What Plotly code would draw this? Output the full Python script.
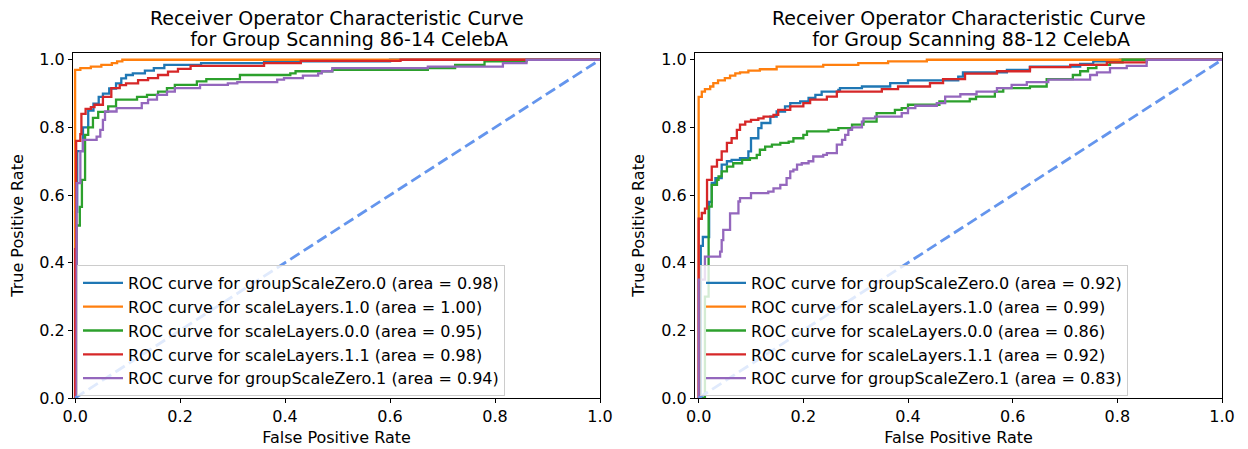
import plotly.graph_objects as go

# the page body has an 8px default margin, so the figure is 8px smaller
# than the 1248x449 window and offset by 8px
OFF = 8
WIN_W, WIN_H = 1248, 449
W, H = WIN_W - OFF, WIN_H - OFF

COLORS = ["#1f77b4", "#ff7f0e", "#2ca02c", "#d62728", "#9467bd"]
MODELS = ["groupScaleZero.0", "scaleLayers.1.0", "scaleLayers.0.0",
          "scaleLayers.1.1", "groupScaleZero.1"]
AUC_A = [0.98, 1.00, 0.95, 0.98, 0.94]
AUC_B = [0.92, 0.99, 0.86, 0.92, 0.83]
TITLES = ["86-14", "88-12"]
TICKS = [0.0, 0.2, 0.4, 0.6, 0.8, 1.0]
TICK_LABELS = ["0.0", "0.2", "0.4", "0.6", "0.8", "1.0"]

# ---------- panel A (86-14) ----------
fpr_a0 = [0, 0, 0.004, 0.015, 0.025, 0.035, 0.045, 0.053, 0.065, 0.078, 0.088, 0.097, 0.11, 0.133, 0.15, 0.17, 0.24, 0.36, 0.6, 1.0]
tpr_a0 = [0, 0.55, 0.73, 0.80, 0.85, 0.87, 0.89, 0.90, 0.915, 0.93, 0.945, 0.955, 0.96, 0.968, 0.975, 0.985, 0.99, 0.995, 1.0, 1.0]

fpr_a1 = [0, 0, 0.01, 0.03, 0.05, 0.07, 0.08, 0.09, 1.0]
tpr_a1 = [0, 0.97, 0.975, 0.98, 0.985, 0.99, 0.995, 1.0, 1.0]

fpr_a2 = [0, 0.003, 0.003, 0.009, 0.013, 0.019, 0.025, 0.034, 0.044, 0.063, 0.078, 0.118, 0.137, 0.158, 0.175, 0.19, 0.232, 0.25, 0.314, 0.41, 0.42, 0.49, 0.672, 0.724, 0.78, 0.86, 1.0]
tpr_a2 = [0, 0, 0.51, 0.565, 0.645, 0.778, 0.80, 0.828, 0.846, 0.862, 0.882, 0.89, 0.896, 0.906, 0.916, 0.926, 0.936, 0.943, 0.955, 0.96, 0.966, 0.97, 0.975, 0.985, 0.995, 1.0, 1.0]

fpr_a3 = [0, 0, 0.002, 0.01, 0.012, 0.02, 0.03, 0.037, 0.053, 0.069, 0.085, 0.097, 0.12, 0.139, 0.158, 0.177, 0.196, 0.22, 0.36, 0.43, 0.62, 1.0]
tpr_a3 = [0, 0.44, 0.76, 0.78, 0.84, 0.855, 0.86, 0.867, 0.89, 0.916, 0.925, 0.93, 0.94, 0.946, 0.955, 0.965, 0.973, 0.982, 0.99, 0.997, 1.0, 1.0]

fpr_a4 = [0, 0.003, 0.01, 0.015, 0.041, 0.048, 0.053, 0.057, 0.079, 0.127, 0.139, 0.156, 0.175, 0.19, 0.238, 0.291, 0.309, 0.385, 0.398, 0.434, 0.463, 0.47, 0.49, 0.672, 0.815, 0.86, 1.0]
tpr_a4 = [0, 0.635, 0.73, 0.763, 0.773, 0.793, 0.822, 0.847, 0.857, 0.872, 0.882, 0.896, 0.906, 0.916, 0.926, 0.93, 0.934, 0.941, 0.946, 0.953, 0.96, 0.966, 0.975, 0.98, 0.99, 1.0, 1.0]

# ---------- panel B (88-12) ----------
fpr_b0 = [0, 0.004, 0.008, 0.02, 0.025, 0.032, 0.044, 0.054, 0.063, 0.079, 0.095, 0.10, 0.114, 0.12, 0.137, 0.149, 0.165, 0.175, 0.194, 0.21, 0.223, 0.235, 0.267, 0.27, 0.312, 0.366, 0.40, 0.496, 0.505, 0.589, 0.633, 0.729, 0.754, 0.805, 1.0]
tpr_b0 = [0, 0.45, 0.476, 0.58, 0.636, 0.65, 0.69, 0.70, 0.704, 0.709, 0.729, 0.768, 0.798, 0.813, 0.832, 0.847, 0.862, 0.872, 0.877, 0.887, 0.896, 0.906, 0.911, 0.916, 0.921, 0.931, 0.939, 0.95, 0.963, 0.97, 0.98, 0.988, 0.995, 1.0, 1.0]

fpr_b1 = [0, 0, 0.006, 0.012, 0.022, 0.028, 0.037, 0.05, 0.06, 0.07, 0.079, 0.095, 0.117, 0.149, 0.238, 0.305, 0.362, 0.436, 1.0]
tpr_b1 = [0, 0.89, 0.906, 0.913, 0.921, 0.931, 0.939, 0.946, 0.953, 0.96, 0.963, 0.968, 0.972, 0.98, 0.985, 0.99, 0.995, 1.0, 1.0]

fpr_b2 = [0, 0.012, 0.019, 0.025, 0.035, 0.038, 0.044, 0.054, 0.066, 0.083, 0.098, 0.111, 0.117, 0.127, 0.14, 0.156, 0.172, 0.181, 0.20, 0.207, 0.248, 0.267, 0.293, 0.315, 0.34, 0.375, 0.388, 0.40, 0.46, 0.518, 0.53, 0.566, 0.582, 0.633, 0.665, 0.715, 0.729, 0.744, 0.76, 0.786, 0.81, 1.0]
tpr_b2 = [0, 0.30, 0.566, 0.63, 0.645, 0.655, 0.67, 0.684, 0.694, 0.704, 0.709, 0.719, 0.734, 0.743, 0.749, 0.754, 0.758, 0.768, 0.778, 0.788, 0.793, 0.798, 0.808, 0.817, 0.842, 0.852, 0.857, 0.867, 0.877, 0.884, 0.891, 0.906, 0.916, 0.921, 0.943, 0.955, 0.966, 0.975, 0.985, 0.992, 1.0, 1.0]

fpr_b3 = [0, 0, 0.006, 0.012, 0.016, 0.025, 0.035, 0.044, 0.054, 0.063, 0.073, 0.079, 0.089, 0.10, 0.114, 0.124, 0.143, 0.152, 0.175, 0.20, 0.213, 0.245, 0.264, 0.35, 0.381, 0.442, 0.467, 0.509, 0.57, 0.633, 0.71, 0.78, 0.856, 1.0]
tpr_b3 = [0, 0.53, 0.547, 0.56, 0.645, 0.684, 0.704, 0.729, 0.754, 0.768, 0.793, 0.808, 0.817, 0.822, 0.827, 0.832, 0.837, 0.852, 0.862, 0.872, 0.882, 0.891, 0.906, 0.913, 0.921, 0.931, 0.943, 0.959, 0.966, 0.978, 0.985, 0.992, 1.0, 1.0]

fpr_b4 = [0, 0, 0.012, 0.041, 0.044, 0.047, 0.06, 0.076, 0.079, 0.10, 0.133, 0.143, 0.156, 0.168, 0.175, 0.181, 0.188, 0.197, 0.21, 0.219, 0.238, 0.245, 0.264, 0.274, 0.28, 0.286, 0.293, 0.312, 0.315, 0.337, 0.388, 0.40, 0.414, 0.455, 0.471, 0.50, 0.531, 0.57, 0.598, 0.627, 0.668, 0.748, 0.761, 0.786, 0.818, 0.856, 1.0]
tpr_b4 = [0, 0.35, 0.418, 0.433, 0.467, 0.497, 0.546, 0.581, 0.591, 0.606, 0.61, 0.62, 0.63, 0.65, 0.67, 0.675, 0.69, 0.694, 0.70, 0.714, 0.719, 0.724, 0.749, 0.763, 0.778, 0.793, 0.80, 0.817, 0.827, 0.832, 0.842, 0.857, 0.864, 0.872, 0.891, 0.898, 0.906, 0.916, 0.926, 0.934, 0.941, 0.955, 0.963, 0.975, 0.982, 1.0, 1.0]

DIAG = [0, 1]

panels = [
    ([(fpr_a0, tpr_a0), (fpr_a1, tpr_a1), (fpr_a2, tpr_a2), (fpr_a3, tpr_a3), (fpr_a4, tpr_a4)], AUC_A),
    ([(fpr_b0, tpr_b0), (fpr_b1, tpr_b1), (fpr_b2, tpr_b2), (fpr_b3, tpr_b3), (fpr_b4, tpr_b4)], AUC_B),
]

FONT = "DejaVu Sans"
fig = go.Figure()

for p, (curves, aucs) in enumerate(panels):
    xa = "x" if p == 0 else "x2"
    ya = "y" if p == 0 else "y2"
    lg = "legend" if p == 0 else "legend2"
    for i, (f, t) in enumerate(curves):
        fig.add_trace(go.Scatter(
            x=f, y=t, mode="lines",
            line=dict(color=COLORS[i], width=2.3, shape="hv", simplify=False),
            name=f"ROC curve for {MODELS[i]} (area = {aucs[i]:.2f})",
            xaxis=xa, yaxis=ya, legend=lg))
    fig.add_trace(go.Scatter(
        x=DIAG, y=DIAG, mode="lines",
        line=dict(color="#6495ED", width=2.8, dash="11px,5px", simplify=False),
        showlegend=False, xaxis=xa, yaxis=ya, hoverinfo="skip"))

# plot area in window pixels: left 73, right 1222, top 53, bottom 398
L_PX, R_PX, T_PX, B_PX = 73, 1222, 53, 398
ML, MT = L_PX - OFF, T_PX - OFF
MR, MB = WIN_W - R_PX, WIN_H - B_PX
PW = R_PX - L_PX
PH = B_PX - T_PX


def px_x(px):
    return (px - L_PX) / PW


def px_y(py):
    return (B_PX - py) / PH


x1 = [0.0, px_x(600)]
x2 = [px_x(695), 1.0]

axis_common = dict(
    showline=True, mirror=True, linecolor="black", linewidth=1,
    ticks="outside", ticklen=4, tickwidth=1, tickcolor="black",
    showgrid=False, zeroline=False, automargin=False,
    tickfont=dict(family=FONT, size=16, color="black"),
    tickvals=TICKS, ticktext=TICK_LABELS,
)
xt = dict(text="False Positive Rate", standoff=6, font=dict(family=FONT, size=16, color="black"))
yt = dict(text="True Positive Rate", standoff=12, font=dict(family=FONT, size=16, color="black"))

legend_common = dict(
    xanchor="left", yanchor="top",
    bgcolor="rgba(255,255,255,0.8)", bordercolor="#cccccc", borderwidth=1,
    font=dict(family=FONT, size=16, color="black"), itemwidth=40,
)

fig.update_layout(
    width=W, height=H,
    margin=dict(l=ML, r=MR, t=MT, b=MB, autoexpand=False),
    paper_bgcolor="white", plot_bgcolor="white",
    font=dict(family=FONT, size=16, color="black"),
    xaxis=dict(domain=x1, range=[-0.004, 1.0], anchor="y", title=xt, **axis_common),
    yaxis=dict(domain=[0, 1], range=[0, 1.02], anchor="x", title=yt, **axis_common),
    xaxis2=dict(domain=x2, range=[-0.007, 1.0], anchor="y2", title=xt, **axis_common),
    yaxis2=dict(domain=[0, 1], range=[0, 1.02], anchor="x2", title=yt, **axis_common),
    legend=dict(x=px_x(77), y=px_y(265), **legend_common),
    legend2=dict(x=px_x(700), y=px_y(265), **legend_common),
    showlegend=True,
)

pad = "\u00a0" * 4
for p, dom in enumerate([x1, x2]):
    cx = (dom[0] + dom[1]) / 2
    fig.add_annotation(
        x=cx, y=px_y(18), xref="paper", yref="paper",
        xanchor="center", yanchor="middle", showarrow=False,
        text="Receiver Operator Characteristic Curve",
        font=dict(family=FONT, size=19, color="black"))
    fig.add_annotation(
        x=cx, y=px_y(39), xref="paper", yref="paper",
        xanchor="center", yanchor="middle", showarrow=False,
        text=f"{pad}for Group Scanning {TITLES[p]} CelebA",
        font=dict(family=FONT, size=19, color="black"))

fig.write_html("out.html")
